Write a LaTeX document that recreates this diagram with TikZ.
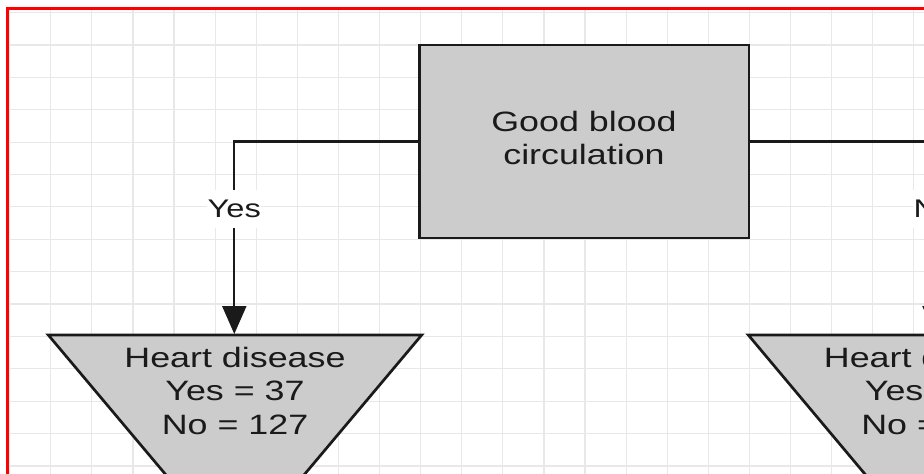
\documentclass[tikz,border=0pt]{standalone}
\usepackage{fontspec}
\setmainfont{Liberation Sans}
\usepackage{graphicx}
\usetikzlibrary{arrows.meta}

\definecolor{shapefill}{HTML}{CCCCCC}
\definecolor{gridline}{HTML}{E8E8E8}
\definecolor{inkdark}{HTML}{1A1A1A}
\definecolor{frame}{HTML}{FF0000}

% text is drawn slightly wide, as in the original export
\newcommand{\wtext}[1]{\scalebox{1.28}[1]{#1}}

\begin{document}
\begin{tikzpicture}[x=1pt,y=-1pt,
  shapebox/.style={draw=inkdark, line width=2.7pt, fill=shapefill, line join=miter},
  flowtext/.style={font=\fontsize{28}{33.5}\selectfont, text=inkdark, align=center, inner sep=0pt},
  branch/.style={draw=inkdark, line width=2.2pt},
  branchlabel/.style={font=\fontsize{25.5}{30}\selectfont, text=inkdark, fill=white, inner xsep=0.5pt, inner ysep=10pt},
  tip/.style={-{Triangle[width=24pt,length=28pt]}}
]
\useasboundingbox (0,0) rectangle (924,474);
\fill[white] (0,0) rectangle (924,474);

\begin{scope}
  \clip (0,0) rectangle (924,474);

  % background grid
  \begin{scope}
    \clip (7,8.5) rectangle (924,474);
    \foreach \i in {0,...,22}
      \draw[gridline, line width=1.2pt] (9.6+41.1*\i,8) -- (9.6+41.1*\i,474);
    \foreach \j in {0,...,14}
      \draw[gridline, line width=1.2pt] (7,12.6+32.38*\j) -- (924,12.6+32.38*\j);
  \end{scope}

  % decision box
  \node[shapebox, minimum width=329.5pt, minimum height=193pt, inner sep=0pt] (circ) at (584.25,141.5) {};
  \node[flowtext] (circtext) at (584,138.2) {\wtext{Good blood}\\\wtext{circulation}};

  % outcome shapes (inverted triangles)
  \path[shapebox] (48.3,335) -- (421.7,335) -- (235,557) -- cycle;
  \path[shapebox] (748.3,335) -- (1120.7,335) -- (934.5,557) -- cycle;
  \coordinate (lefttop) at (234.3,334);
  \coordinate (righttop) at (934.5,334);

  \node[flowtext] (lefttext) at (235,390.6) {\wtext{Heart disease}\\\wtext{Yes = 37}\\\wtext{No = 127}};
  \node[flowtext] (righttext) at (934.5,390.6) {\wtext{Heart disease}\\\wtext{Yes = 37}\\\wtext{No = 127}};

  % branches
  \draw[branch, tip] (circ.west) -| (lefttop);
  \draw[branch, tip] (circ.east) -| (righttop);
  \node[branchlabel] (yeslab) at (234.3,209) {\wtext{Yes}};
  \node[branchlabel] (nolab) at (934.5,209) {\wtext{No}};

  % frame
  \draw[frame, line width=2.4pt] (7.3,480) -- (7.3,8.5) -- (930,8.5);
\end{scope}
\end{tikzpicture}
\end{document}
